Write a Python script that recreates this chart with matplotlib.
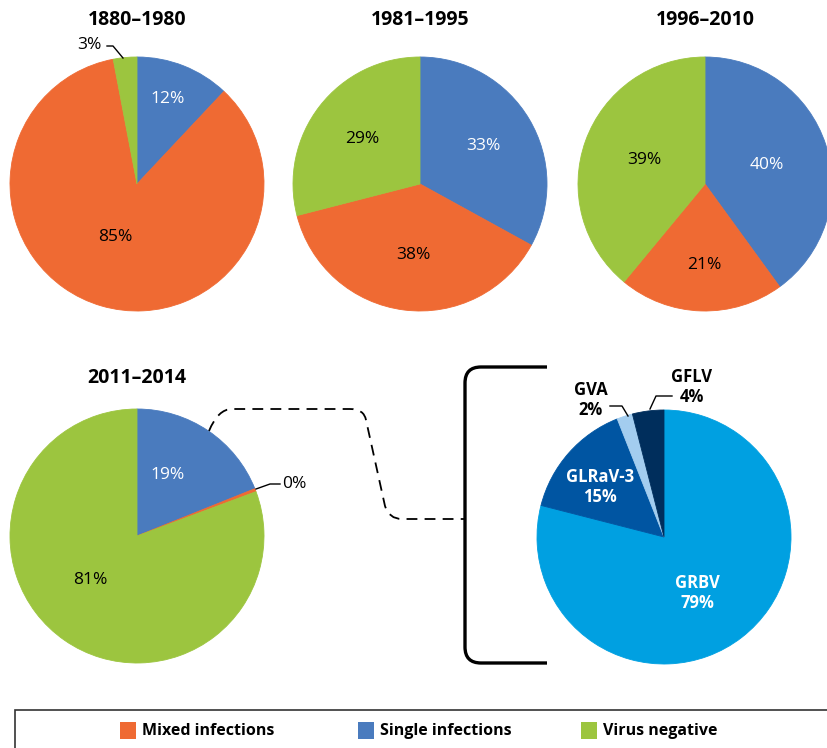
import numpy as np
import matplotlib
matplotlib.use('Agg')
from matplotlib import pyplot as plt
from matplotlib import font_manager
from matplotlib.path import Path
from matplotlib.patches import PathPatch, Rectangle

####
# Data
####
periods = ['1880–1980', '1981–1995', '1996–2010', '2011–2014']
single = [12, 33, 40, 19]
mixed = [85, 38, 21, 0.4]
negative = [3, 29, 39, 81]
pct_labels = [['12%', '85%', '3%'],
              ['33%', '38%', '29%'],
              ['40%', '21%', '39%'],
              ['19%', '0%', '81%']]

viruses = ['GRBV', 'GLRaV-3', 'GVA', 'GFLV']
virus_share = [79, 15, 2, 4]

legend_names = ['Mixed infections', 'Single infections', 'Virus negative']

####
# Style
####
C_MIXED = '#EF6A33'
C_SINGLE = '#4A7BBE'
C_NEG = '#9CC53F'
virus_colors = ['#00A0E1', '#0055A2', '#A3CDEF', '#002E5C']

names = {f.name for f in font_manager.fontManager.ttflist}
if 'Liberation Sans Narrow' in names:
    FONT = 'Liberation Sans Narrow'
    S_TITLE, S_PCT, S_VIR, S_LEG = 17, 14, 13.5, 14.5
else:
    FONT = 'Open Sans'
    S_TITLE, S_PCT, S_VIR, S_LEG = 14, 12.5, 12, 11.5
plt.rcParams['font.family'] = [FONT, 'DejaVu Sans']

W, H = 827, 748
def Y(y):
    # image row -> data y (y up)
    return H - y

fig = plt.figure(figsize=(W / 100, H / 100), dpi=100)
ax = fig.add_axes([0, 0, 1, 1])

# pie layout: centre, radius, title pos, label offsets (px from centre)
pie_centres = [(137, 184), (420, 184), (705, 184), (137, 536)]
title_pos = [(137, 20), (420, 20), (705, 20), (137, 378)]
label_off = [[(31, -85), (-22, 53), None],
             [(63, -38), (-7, 71), (-58, -45)],
             [(62, -19), (-1, 81), (-61, -24)],
             [(31, -61), None, (-47, 44)]]
label_col = ['white', 'black', 'black']
R = 127

for i in range(4):
    cx, cy = pie_centres[i]
    vals = [single[i], mixed[i], negative[i]]
    wedges, _ = ax.pie(vals, colors=[C_SINGLE, C_MIXED, C_NEG], startangle=90,
                       counterclock=False, center=(cx, Y(cy)), radius=R,
                       frame=True)
    for w in wedges:
        w.set_edgecolor(w.get_facecolor())
        w.set_linewidth(0.6)
    tx, ty = title_pos[i]
    ax.text(tx, Y(ty), periods[i], ha='center', va='center',
            fontsize=S_TITLE, fontweight='bold')
    for j in range(3):
        off = label_off[i][j]
        if off is None:
            continue
        ax.text(cx + off[0], Y(cy + off[1]), pct_labels[i][j], ha='center',
                va='center', fontsize=S_PCT, color=label_col[j])

# outside labels with leader lines
ax.text(89, Y(45), pct_labels[0][2], ha='center', va='center', fontsize=S_PCT)
ax.plot([107, 113, 123], [Y(46), Y(46), Y(58)], color='black', lw=1)
ax.text(282, Y(484), pct_labels[3][1], ha='left', va='center', fontsize=S_PCT)
ax.plot([256, 270, 280], [Y(489), Y(484), Y(484)], color='black', lw=1)

# virus breakdown pie
vx, vy = 664, 537
wedges, _ = ax.pie(virus_share, colors=virus_colors, startangle=90,
                   counterclock=False, center=(vx, Y(vy)), radius=R,
                   frame=True)
for w in wedges:
    w.set_edgecolor(w.get_facecolor())
    w.set_linewidth(0.6)

ax.text(697, Y(593), f'{viruses[0]}\n{virus_share[0]}%', ha='center', va='center',
        fontsize=S_VIR, fontweight='bold', color='white', linespacing=1.15)
ax.text(600, Y(487), f'{viruses[1]}\n{virus_share[1]}%', ha='center', va='center',
        fontsize=S_VIR, fontweight='bold', color='white', linespacing=1.15)
ax.text(591, Y(400), f'{viruses[2]}\n{virus_share[2]}%', ha='center', va='center',
        fontsize=S_VIR, fontweight='bold', color='black', linespacing=1.15)
ax.plot([610, 622, 628], [Y(406), Y(406), Y(416)], color='black', lw=1)
ax.text(692, Y(387), f'{viruses[3]}\n{virus_share[3]}%', ha='center', va='center',
        fontsize=S_VIR, fontweight='bold', color='black', linespacing=1.15)
ax.plot([650, 656, 672], [Y(409), Y(396), Y(396)], color='black', lw=1)

# bracket
bx, btop, bbot, bend, rr = 465, 367, 663, 547, 16
verts = [(bend, Y(btop)), (bx + rr, Y(btop)), (bx, Y(btop)), (bx, Y(btop + rr)),
         (bx, Y(bbot - rr)), (bx, Y(bbot)), (bx + rr, Y(bbot)), (bend, Y(bbot))]
codes = [Path.MOVETO, Path.LINETO, Path.CURVE3, Path.CURVE3,
         Path.LINETO, Path.CURVE3, Path.CURVE3, Path.LINETO]
ax.add_patch(PathPatch(Path(verts, codes), fill=False, lw=2.4,
                       edgecolor='black', capstyle='butt'))

# dashed connector
verts = [(209, Y(431)), (218, Y(409)), (232, Y(409)), (350, Y(409)),
         (364, Y(409)), (366, Y(420)), (385, Y(506)), (389, Y(519)),
         (402, Y(519)), (465, Y(519))]
codes = [Path.MOVETO, Path.CURVE3, Path.CURVE3, Path.LINETO,
         Path.CURVE3, Path.CURVE3, Path.LINETO, Path.CURVE3, Path.CURVE3,
         Path.LINETO]
ax.add_patch(PathPatch(Path(verts, codes), fill=False, lw=1.3,
                       edgecolor='black', linestyle=(0, (6, 4))))

# legend box
ax.add_patch(Rectangle((15, Y(760)), 830, 50, fill=False, edgecolor='#333333',
                       lw=1.2))
leg_x = [120, 358, 581]
for k, (name, col) in enumerate(zip(legend_names, [C_MIXED, C_SINGLE, C_NEG])):
    ax.add_patch(Rectangle((leg_x[k], Y(739)), 16, 17, color=col, lw=0))
    ax.text(leg_x[k] + 22, Y(731), name, ha='left', va='center',
            fontsize=S_LEG, fontweight='bold')

ax.set_xlim(0, W)
ax.set_ylim(0, H)
ax.set_aspect('equal')
ax.axis('off')

fig.savefig('out.png', dpi=100)
